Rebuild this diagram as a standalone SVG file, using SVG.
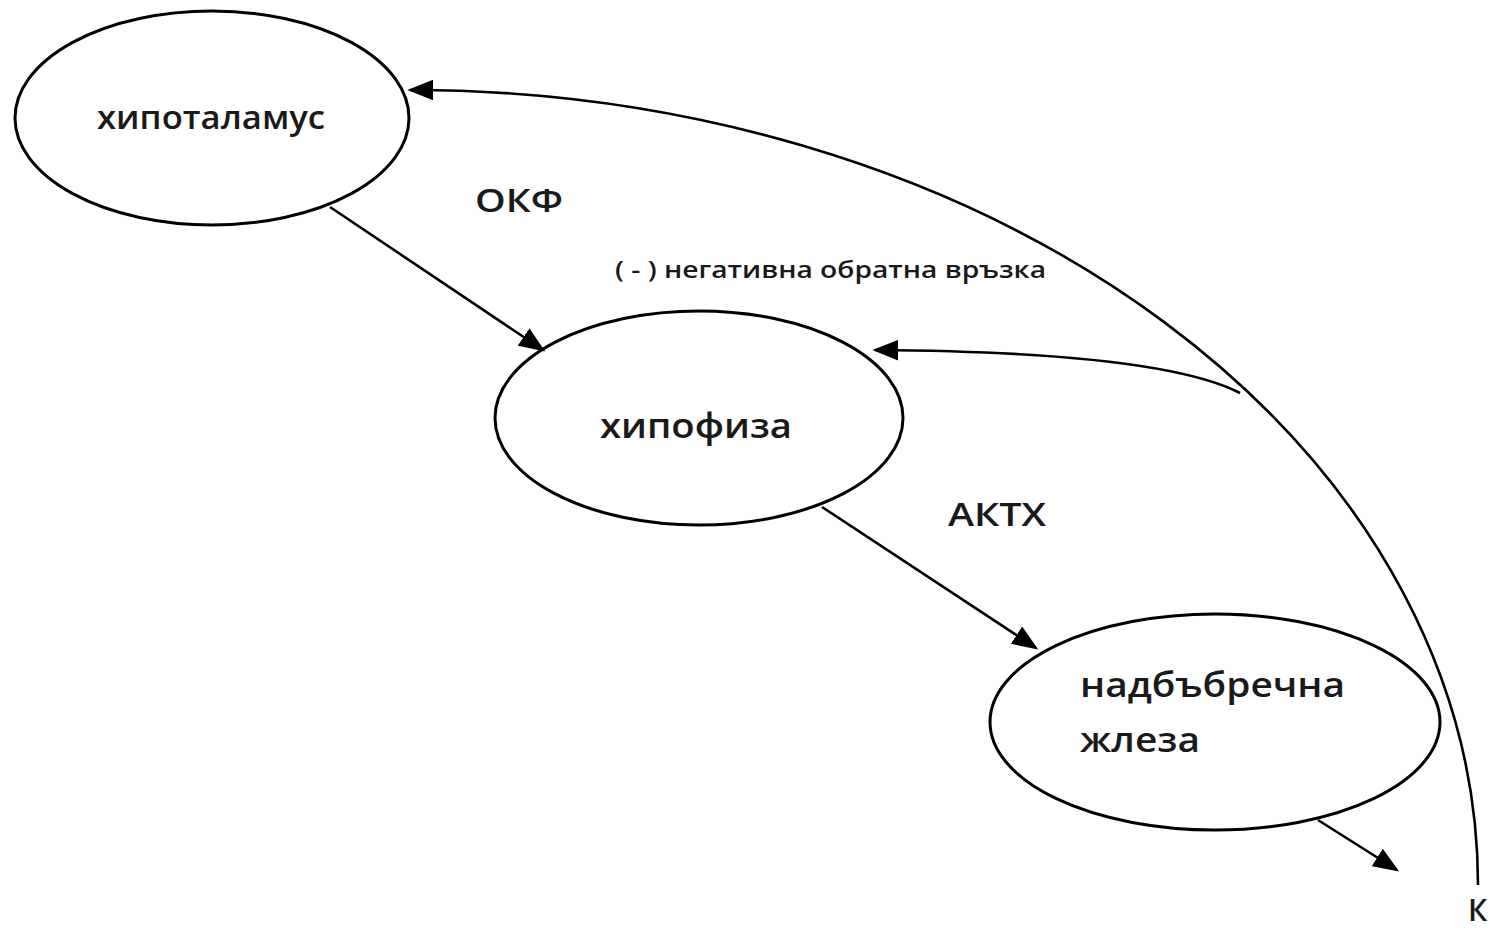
<svg xmlns="http://www.w3.org/2000/svg" width="1494" height="930" viewBox="0 0 1494 930">
<style>
.n{fill:#fff;stroke:#000;stroke-width:3}
.t{font-family:"Open Sans","Noto Sans","Liberation Sans",sans-serif;fill:#1a1a1a;font-weight:600}
.c{fill:none;stroke:#000;stroke-width:2.6}
</style>
<defs>
<marker id="ah" markerWidth="10" markerHeight="8" refX="9" refY="4" orient="auto" markerUnits="strokeWidth">
<path d="M0,0 L10,4 L0,8 z" fill="#000"/>
</marker>
</defs>
<rect width="1494" height="930" fill="#fff"/>
<g id="hypothalamus">
<ellipse class="n" cx="212" cy="118" rx="197" ry="107"/>
<text class="t" x="97" y="129" font-size="32" textLength="228" lengthAdjust="spacingAndGlyphs">хипоталамус</text>
</g>
<g id="hypophysis">
<ellipse class="n" cx="699" cy="418" rx="204" ry="107"/>
<text class="t" x="600" y="438" font-size="35" textLength="192" lengthAdjust="spacingAndGlyphs">хипофиза</text>
</g>
<g id="adrenal">
<ellipse class="n" cx="1215" cy="722" rx="225" ry="108"/>
<text class="t" x="1080" y="697" font-size="35" textLength="265" lengthAdjust="spacingAndGlyphs">надбъбречна</text>
<text class="t" x="1080" y="752" font-size="35" textLength="120" lengthAdjust="spacingAndGlyphs">жлеза</text>
</g>
<g id="connectors">
<path class="c" d="M1478,885 A1068,795 0 0 0 410,90" marker-end="url(#ah)"/>
<path class="c" d="M1240,393 Q1160,352 875,350" marker-end="url(#ah)"/>
<line class="c" x1="330" y1="207" x2="543" y2="350" marker-end="url(#ah)"/>
<line class="c" x1="822" y1="507" x2="1036" y2="648" marker-end="url(#ah)"/>
<line class="c" x1="1318" y1="820" x2="1397" y2="870" marker-end="url(#ah)"/>
</g>
<g id="labels">
<text class="t" x="475" y="212" font-size="33" textLength="88" lengthAdjust="spacingAndGlyphs">ОКФ</text>
<text class="t" x="615" y="278" font-size="23" font-weight="bold" textLength="431" lengthAdjust="spacingAndGlyphs">( - ) негативна обратна връзка</text>
<text class="t" x="948" y="526" font-size="33" textLength="98" lengthAdjust="spacingAndGlyphs">АКТХ</text>
<text class="t" x="1468" y="921" font-size="30">К</text>
</g>
</svg>
